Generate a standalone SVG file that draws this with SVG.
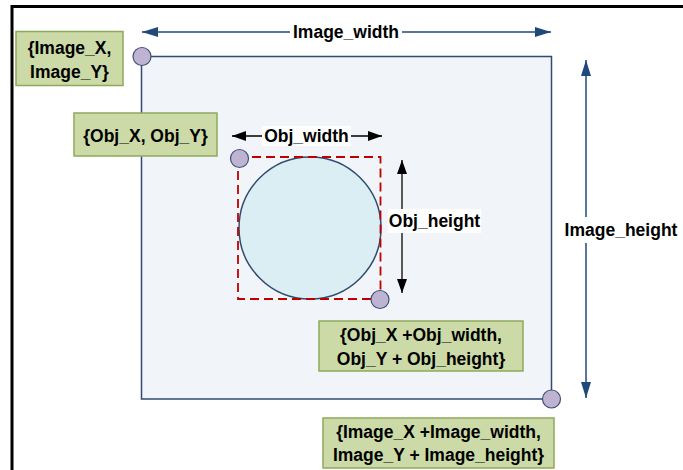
<svg xmlns="http://www.w3.org/2000/svg" width="683" height="470" viewBox="0 0 683 470">
  <style>
    .lbl { font-family: "Liberation Sans", Arial, sans-serif; font-weight: bold; font-size: 17.5px; fill: #000; text-anchor: middle; }
    .box { fill: #cbdaa6; stroke: #8fa95a; stroke-width: 1.5; }
    .dot { fill: #bfb3d2; stroke: #3f4f7a; stroke-width: 1.2; }
    .bg { fill: #ffffff; }
    .navy { stroke: #1f497d; stroke-width: 1.5; fill: none; }
    .blk { stroke: #000; stroke-width: 1.5; fill: none; }
    .gry { stroke: #595959; stroke-width: 2; fill: none; }
  </style>
  <defs>
    <marker id="an" viewBox="0 0 16 10" refX="16" refY="5" markerWidth="16" markerHeight="10" markerUnits="userSpaceOnUse" orient="auto-start-reverse">
      <path d="M0,0 L16,5 L0,10 z" fill="#1f497d"/>
    </marker>
    <marker id="ab" viewBox="0 0 14 10" refX="14" refY="5" markerWidth="14" markerHeight="10" markerUnits="userSpaceOnUse" orient="auto-start-reverse">
      <path d="M0,0 L14,5 L0,10 z" fill="#000"/>
    </marker>
  </defs>

  <!-- frame -->
  <path d="M12,470 L12,6.5 L683,6.5" fill="none" stroke="#000" stroke-width="3"/>

  <g id="image-rect">
    <rect x="141.5" y="56.5" width="410" height="342.5" fill="#f1f4f9" stroke="#2f4a78" stroke-width="1.5"/>
  </g>

  <g id="object">
    <circle cx="310" cy="228" r="71" fill="#dbeef3" stroke="#2f4d6f" stroke-width="1.5"/>
    <rect x="238" y="157" width="142.5" height="142" fill="none" stroke="#c00000" stroke-width="1.8" stroke-dasharray="9 5"/>
  </g>

  <g id="connectors">
    <line class="navy" x1="142" y1="32" x2="551" y2="32" marker-start="url(#an)" marker-end="url(#an)"/>
    <line class="navy" x1="586" y1="60" x2="586" y2="398" marker-start="url(#an)" marker-end="url(#an)"/>
    <line class="blk" x1="232" y1="136" x2="382" y2="136" marker-start="url(#ab)" marker-end="url(#ab)"/>
    <line class="gry" x1="402" y1="160" x2="402" y2="293" marker-start="url(#ab)" marker-end="url(#ab)"/>
  </g>

  <g id="label-image-width">
    <rect class="bg" x="290" y="22" width="112" height="20"/>
    <text class="lbl" x="346" y="38">Image_width</text>
  </g>
  <g id="label-image-height">
    <rect class="bg" x="563" y="217" width="116" height="26"/>
    <text class="lbl" x="621" y="236">Image_height</text>
  </g>
  <g id="label-obj-width">
    <rect class="bg" x="262" y="126" width="89" height="20"/>
    <text class="lbl" x="306.5" y="142">Obj_width</text>
  </g>
  <g id="label-obj-height">
    <rect class="bg" x="388" y="209" width="93" height="24"/>
    <text class="lbl" x="434.5" y="227">Obj_height</text>
  </g>

  <g id="dot-image-tl"><circle class="dot" cx="142" cy="56.5" r="9"/></g>
  <g id="dot-image-br"><circle class="dot" cx="551.5" cy="399" r="9"/></g>
  <g id="dot-obj-tl"><circle class="dot" cx="239.5" cy="158.5" r="9"/></g>
  <g id="dot-obj-br"><circle class="dot" cx="380" cy="299.5" r="9"/></g>

  <g id="box-image-xy">
    <rect class="box" x="16" y="31.5" width="107" height="54"/>
    <text class="lbl" x="69.5" y="54">{Image_X,</text>
    <text class="lbl" x="69.5" y="78">Image_Y}</text>
  </g>
  <g id="box-obj-xy">
    <rect class="box" x="74" y="113" width="143" height="43"/>
    <text class="lbl" x="145.5" y="142">{Obj_X, Obj_Y}</text>
  </g>
  <g id="box-obj-br">
    <rect class="box" x="319" y="321" width="204" height="50"/>
    <text class="lbl" x="421" y="341">{Obj_X +Obj_width,</text>
    <text class="lbl" x="421" y="365">Obj_Y + Obj_height}</text>
  </g>
  <g id="box-image-br">
    <rect class="box" x="323" y="418" width="231" height="50"/>
    <text class="lbl" x="438.5" y="438">{Image_X +Image_width,</text>
    <text class="lbl" x="438.5" y="461">Image_Y + Image_height}</text>
  </g>
</svg>
